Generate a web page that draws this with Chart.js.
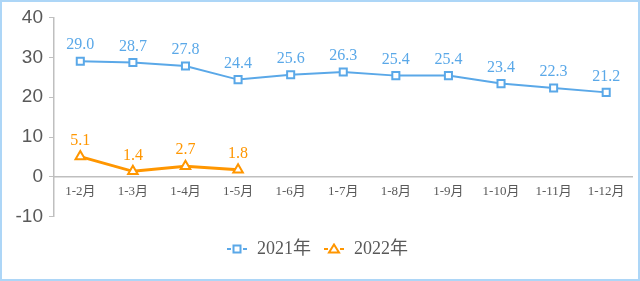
<!DOCTYPE html>
<html>
<head>
<meta charset="utf-8">
<script src="https://cdn.jsdelivr.net/npm/chart.js@4/dist/chart.umd.min.js"></script>
<style>
html,body{margin:0;padding:0;background:#fff;}
#wrap{position:relative;width:640px;height:281px;}
#frame{position:absolute;left:0;top:0;width:640px;height:281px;box-sizing:border-box;border:2px solid #add6f7;pointer-events:none;}
canvas{display:block;}
</style>
</head>
<body>
<div id="wrap"><canvas id="c" width="640" height="281"></canvas><div id="frame"></div></div>
<script>
const categories = ['1-2月','1-3月','1-4月','1-5月','1-6月','1-7月','1-8月','1-9月','1-10月','1-11月','1-12月'];
const series2021 = [29.0, 28.7, 27.8, 24.4, 25.6, 26.3, 25.4, 25.4, 23.4, 22.3, 21.2];
const series2022 = [5.1, 1.4, 2.7, 1.8, null, null, null, null, null, null, null];
const seriesNames = ['2021年', '2022年'];
const yTicks = [-10, 0, 10, 20, 30, 40];

const BLUE = '#5aa8e8';
const ORANGE = '#ff9600';
const GRAY = '#595959';
const AXIS = '#bfbfbf';
const SERIF = '"Liberation Serif", "DejaVu Serif", "Noto Sans CJK SC", serif';

function legendIcon(color, shape) {
  const cv = document.createElement('canvas');
  cv.width = 22; cv.height = 12;
  const g = cv.getContext('2d');
  g.strokeStyle = color; g.lineWidth = 2;
  g.beginPath(); g.moveTo(1, 6); g.lineTo(5, 6); g.moveTo(17, 6); g.lineTo(21, 6); g.stroke();
  g.fillStyle = '#fff';
  if (shape === 'rect') {
    g.fillRect(7.5, 2.5, 7, 7); g.strokeRect(7.5, 2.5, 7, 7);
  } else {
    g.beginPath(); g.moveTo(11, 1.5); g.lineTo(16, 9.5); g.lineTo(6, 9.5); g.closePath();
    g.fill(); g.stroke();
  }
  return cv;
}

const labelPlugin = {
  id: 'valueLabels',
  afterDatasetsDraw(chart) {
    const ctx = chart.ctx;
    ctx.save();
    ctx.font = '16px ' + SERIF;
    ctx.textAlign = 'center';
    ctx.textBaseline = 'middle';
    chart.data.datasets.forEach((ds, i) => {
      const meta = chart.getDatasetMeta(i);
      ctx.fillStyle = ds.borderColor;
      meta.data.forEach((pt, j) => {
        const v = ds.data[j];
        if (v === null || v === undefined) return;
        ctx.fillText(v.toFixed(1), pt.x, pt.y - 16);
      });
    });
    ctx.restore();
  }
};

new Chart(document.getElementById('c'), {
  type: 'line',
  data: {
    labels: categories,
    datasets: [
      {
        label: seriesNames[0], data: series2021,
        borderColor: BLUE, borderWidth: 2,
        pointStyle: 'rect', pointRadius: 5, pointBorderWidth: 2,
        pointBackgroundColor: '#fff', pointBorderColor: BLUE,
        legendIcon: legendIcon(BLUE, 'rect')
      },
      {
        label: seriesNames[1], data: series2022,
        borderColor: ORANGE, borderWidth: 3,
        pointStyle: 'triangle', pointRadius: 5.5, pointBorderWidth: 2,
        pointBackgroundColor: '#fff', pointBorderColor: ORANGE,
        legendIcon: legendIcon(ORANGE, 'tri')
      }
    ]
  },
  options: {
    responsive: false,
    animation: false,
    layout: { padding: { top: 15, left: 0, right: 6, bottom: 13 } },
    plugins: {
      tooltip: { enabled: false },
      legend: {
        position: 'bottom',
        title: { display: true, text: '', font: { size: 1 }, padding: { top: 10, bottom: 0 } },
        labels: {
          usePointStyle: true,
          pointStyleWidth: 22,
          padding: 12,
          color: GRAY,
          font: { size: 18, family: SERIF },
          generateLabels(chart) {
            return chart.data.datasets.map((ds, i) => ({
              text: ds.label,
              pointStyle: ds.legendIcon,
              fillStyle: '#fff',
              strokeStyle: ds.borderColor,
              lineWidth: 0,
              fontColor: GRAY,
              hidden: false,
              datasetIndex: i
            }));
          }
        }
      }
    },
    scales: {
      x: {
        position: { y: 0 },
        offset: true,
        grid: { display: true, drawOnChartArea: false, drawTicks: false },
        border: { display: true, color: AXIS, width: 1.5 },
        ticks: { color: GRAY, font: { size: 13, family: SERIF }, padding: 7, maxRotation: 0, autoSkip: false }
      },
      y: {
        min: -10, max: 40,
        afterFit(scale) { scale.width = 54; },
        afterBuildTicks(scale) { scale.ticks = yTicks.map(v => ({ value: v })); },
        grid: { display: true, drawOnChartArea: false, drawTicks: true, tickLength: 5, color: AXIS },
        border: { display: true, color: AXIS, width: 1.5 },
        ticks: { color: GRAY, font: { size: 19, family: '"Liberation Sans", Arial, sans-serif' }, padding: 6 }
      }
    }
  },
  plugins: [labelPlugin]
});
</script>
</body>
</html>
